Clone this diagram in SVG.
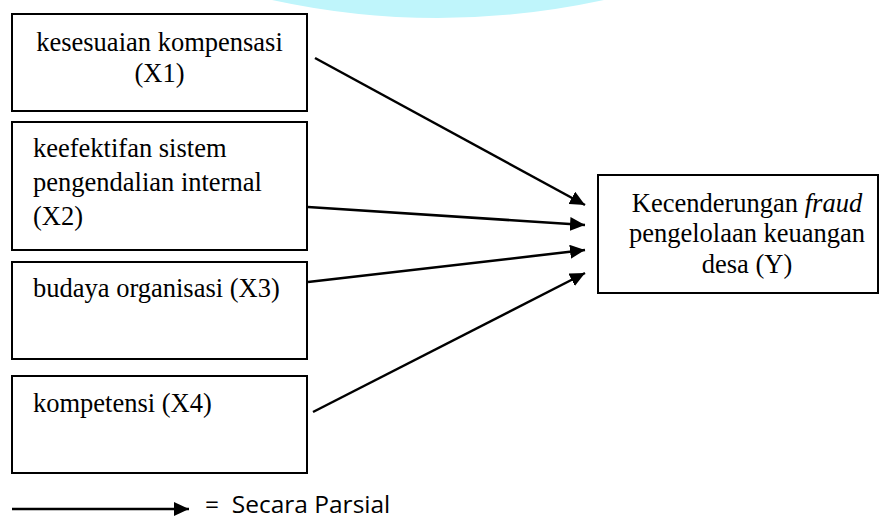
<svg xmlns="http://www.w3.org/2000/svg" width="880" height="520" viewBox="0 0 880 520">
<defs>
<marker id="ah" markerUnits="userSpaceOnUse" markerWidth="16" markerHeight="14" refX="15" refY="7" orient="auto">
<path d="M0,0 L15,7 L0,14 z" fill="#000"/>
</marker>
<style>
.box{fill:#fff;stroke:#000;stroke-width:2}
.t{font-size:26.5px;fill:#000}
.c{text-anchor:middle}
.con{stroke:#000;stroke-width:2.5;fill:none;marker-end:url(#ah)}
.leg{font-family:'Open Sans','Noto Sans',sans-serif;font-size:24.5px;fill:#000;white-space:pre}
</style>
</defs>
<rect width="880" height="520" fill="#fff"/>
<path d="M272,0 Q437,36 604,0 z" fill="#bff5fb"/>
<g font-family="'Liberation Serif', 'DejaVu Serif', serif">
<g id="x1">
<rect class="box" x="12" y="14" width="295" height="97"/>
<text class="t c" x="159.5" y="51">kesesuaian kompensasi</text>
<text class="t c" x="159.5" y="82">(X1)</text>
</g>
<g id="x2">
<rect class="box" x="12" y="122" width="295" height="128"/>
<text class="t" x="33" y="157">keefektifan sistem</text>
<text class="t" x="33" y="191">pengendalian internal</text>
<text class="t" x="33" y="225">(X2)</text>
</g>
<g id="x3">
<rect class="box" x="12" y="262" width="295" height="97"/>
<text class="t" x="33" y="297">budaya organisasi (X3)</text>
</g>
<g id="x4">
<rect class="box" x="12" y="376" width="295" height="97"/>
<text class="t" x="33" y="412">kompetensi (X4)</text>
</g>
<g id="y">
<rect class="box" x="598" y="175" width="280" height="118"/>
<text class="t c" x="747" y="212">Kecenderungan <tspan font-style="italic">fraud</tspan></text>
<text class="t c" x="747" y="242">pengelolaan keuangan</text>
<text class="t c" x="747" y="273">desa (Y)</text>
</g>
</g>
<g id="connectors">
<line class="con" x1="315" y1="58" x2="585" y2="205"/>
<line class="con" x1="308" y1="207" x2="585" y2="225"/>
<line class="con" x1="308" y1="282" x2="585" y2="250"/>
<line class="con" x1="313" y1="412" x2="585" y2="273"/>
</g>
<g id="legend">
<line class="con" x1="12" y1="509" x2="189" y2="509"/>
<text class="leg" x="205" y="513">=  Secara Parsial</text>
</g>
</svg>
